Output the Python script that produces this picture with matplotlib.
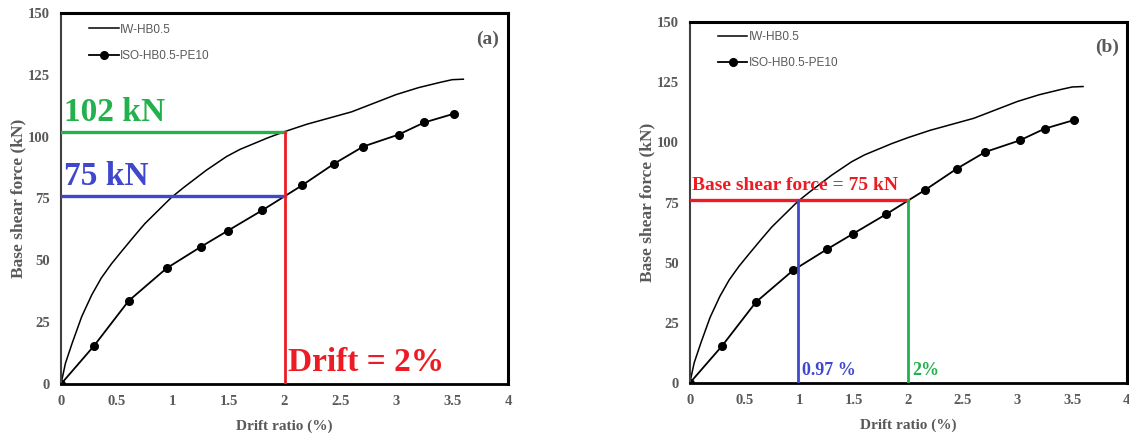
import numpy as np
import matplotlib.pyplot as plt

# IW-HB0.5 (curva continua)
iw_drift = [0, 0.04, 0.1, 0.185, 0.275, 0.36, 0.45, 0.54, 0.65, 0.75, 0.9, 0.99, 1.1,
            1.3, 1.48, 1.6, 1.85, 2.0, 2.2, 2.4, 2.6, 2.8, 3.0, 3.2, 3.4, 3.5, 3.6]
iw_force = [0, 8.4, 16.5, 27.2, 36, 42.8, 48.5, 53.5, 59.5, 64.8, 71.5, 75.5, 79.5,
            86.4, 91.9, 94.8, 99.5, 102, 105, 107.5, 110, 113.5, 117, 119.8, 122, 123, 123.2]

# ISO-HB0.5-PE10 (pontos com marcador)
iso_drift = [0, 0.295, 0.605, 0.945, 1.253, 1.494, 1.80, 2.157, 2.446, 2.705, 3.02, 3.25, 3.52]
iso_force = [0, 15.4, 33.6, 46.8, 55.5, 62.0, 70.2, 80.3, 89.1, 96.0, 100.8, 105.7, 109.3]

xticks = [0, 0.5, 1, 1.5, 2, 2.5, 3, 3.5, 4]
xtick_labels = ["0", "0.5", "1", "1.5", "2", "2.5", "3", "3.5", "4"]
yticks = [0, 25, 50, 75, 100, 125, 150]

# marcações
drift_ref = 2.0
force_iw_2 = 102
force_iso_2 = 76
force_ref_b = 76
drift_iw_b = 0.99

VERDE = "#22b14c"
AZUL = "#3f48cc"
VERMELHO = "#ed1c24"
CINZA = "#595959"
SERIF = "Liberation Serif"


def desenha_base(ax, letra, leg_y):
  '''Desenha as duas curvas, eixos e legenda em um painel.'''
  ax.plot(iw_drift, iw_force, color="black", linewidth=1.1, label="IW-HB0.5")
  ax.plot(iso_drift, iso_force, color="black", linewidth=1.3, marker="o",
          markersize=5.5, label="ISO-HB0.5-PE10")
  ax.set_xlim(0, 4)
  ax.set_ylim(0, 150)
  ax.set_xticks(xticks)
  ax.set_xticklabels(xtick_labels)
  ax.set_yticks(yticks)
  ax.tick_params(length=0, pad=8, labelsize=10.5, labelcolor=CINZA)
  for lab in ax.get_xticklabels() + ax.get_yticklabels():
      lab.set_fontfamily(SERIF)
      lab.set_fontweight("bold")
  ax.set_xlabel("Drift ratio (%)", fontfamily=SERIF, fontweight="bold",
                fontsize=11, color=CINZA, labelpad=8)
  ax.set_ylabel("Base shear force (kN)", fontfamily=SERIF, fontweight="bold",
                fontsize=12.5, color=CINZA, labelpad=1)
  ax.spines["top"].set_linewidth(2.2)
  ax.spines["right"].set_linewidth(2.2)
  ax.spines["bottom"].set_linewidth(2.0)
  ax.spines["left"].set_linewidth(1.5)
  ax.spines["left"].set_color("#404040")
  leg = ax.legend(loc="upper left", bbox_to_anchor=(0.04, leg_y), frameon=False,
                  handlelength=2.5, handletextpad=0.1, labelspacing=1.2,
                  prop={"family": "Liberation Sans", "size": 8.5})
  for t in leg.get_texts():
      t.set_color(CINZA)
  ax.text(3.82, 139.5, letra, fontfamily=SERIF, fontweight="bold", fontsize=14,
          color=CINZA, ha="center", va="center")


fig = plt.figure(figsize=(11.29, 4.44), dpi=100)
ax1 = fig.add_axes([0.054, 0.135, 0.396, 0.836])
ax2 = fig.add_axes([0.611, 0.1374, 0.387, 0.813])

# Painel (a)
desenha_base(ax1, "(a)", 1.0)
ax1.plot([0, drift_ref], [force_iw_2, force_iw_2], color=VERDE, linewidth=2.4, zorder=3)
ax1.plot([0, drift_ref], [force_iso_2, force_iso_2], color=AZUL, linewidth=2.4, zorder=3)
ax1.plot([drift_ref, drift_ref], [0, force_iw_2], color=VERMELHO, linewidth=2.0, zorder=3)
ax1.text(0.03, force_iw_2 + 1.5, f"{force_iw_2} kN", color=VERDE, fontfamily=SERIF,
         fontweight="bold", fontsize=24, va="bottom")
ax1.text(0.03, force_iso_2 + 1.5, "75 kN", color=AZUL, fontfamily=SERIF,
         fontweight="bold", fontsize=24, va="bottom")
ax1.text(2.03, 2.5, "Drift = 2%", color=VERMELHO, fontfamily=SERIF,
         fontweight="bold", fontsize=24, va="bottom")

# Painel (b)
desenha_base(ax2, "(b)", 1.005)
ax2.plot([0, drift_ref], [force_ref_b, force_ref_b], color=VERMELHO, linewidth=2.4, zorder=3)
ax2.plot([drift_iw_b, drift_iw_b], [0, force_ref_b], color=AZUL, linewidth=2.0, zorder=3)
ax2.plot([drift_ref, drift_ref], [0, force_ref_b], color=VERDE, linewidth=2.0, zorder=3)
ax2.text(0.02, force_ref_b + 2.5, "Base shear force = 75 kN", color=VERMELHO,
         fontfamily=SERIF, fontweight="bold", fontsize=14, va="bottom")
ax2.text(drift_iw_b + 0.04, 1.5, "0.97 %", color=AZUL, fontfamily=SERIF,
         fontweight="bold", fontsize=13, va="bottom")
ax2.text(drift_ref + 0.04, 1.5, "2%", color=VERDE, fontfamily=SERIF,
         fontweight="bold", fontsize=13, va="bottom")

fig.savefig("out.png", dpi=100)
